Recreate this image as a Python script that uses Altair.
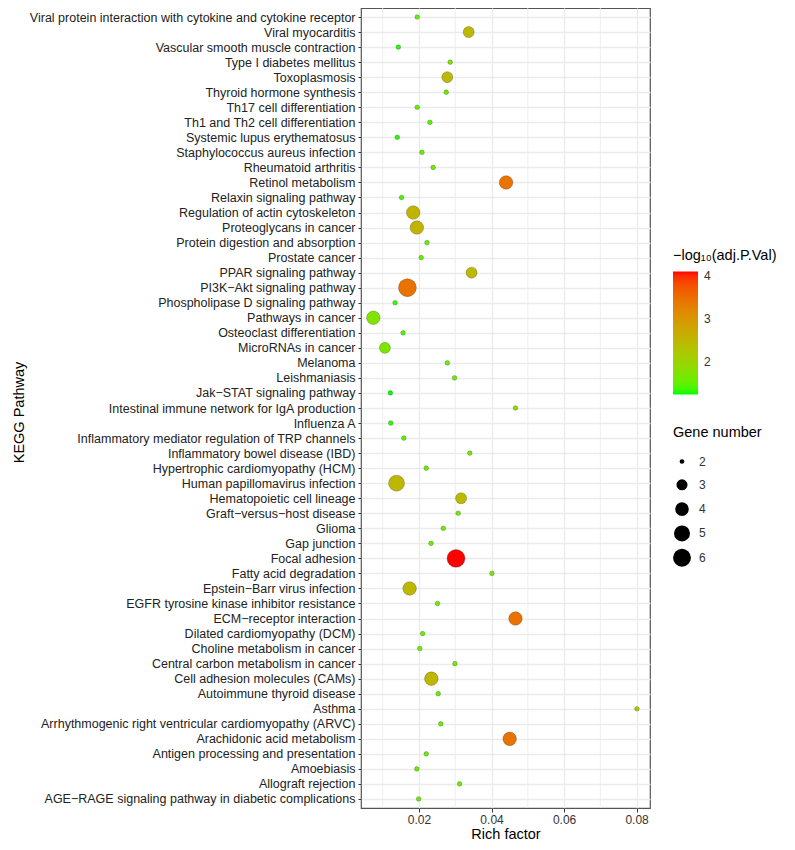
import altair as alt
import pandas as pd

pathways = [
    "Viral protein interaction with cytokine and cytokine receptor",
    "Viral myocarditis",
    "Vascular smooth muscle contraction",
    "Type I diabetes mellitus",
    "Toxoplasmosis",
    "Thyroid hormone synthesis",
    "Th17 cell differentiation",
    "Th1 and Th2 cell differentiation",
    "Systemic lupus erythematosus",
    "Staphylococcus aureus infection",
    "Rheumatoid arthritis",
    "Retinol metabolism",
    "Relaxin signaling pathway",
    "Regulation of actin cytoskeleton",
    "Proteoglycans in cancer",
    "Protein digestion and absorption",
    "Prostate cancer",
    "PPAR signaling pathway",
    "PI3K\u2212Akt signaling pathway",
    "Phospholipase D signaling pathway",
    "Pathways in cancer",
    "Osteoclast differentiation",
    "MicroRNAs in cancer",
    "Melanoma",
    "Leishmaniasis",
    "Jak\u2212STAT signaling pathway",
    "Intestinal immune network for IgA production",
    "Influenza A",
    "Inflammatory mediator regulation of TRP channels",
    "Inflammatory bowel disease (IBD)",
    "Hypertrophic cardiomyopathy (HCM)",
    "Human papillomavirus infection",
    "Hematopoietic cell lineage",
    "Graft\u2212versus\u2212host disease",
    "Glioma",
    "Gap junction",
    "Focal adhesion",
    "Fatty acid degradation",
    "Epstein\u2212Barr virus infection",
    "EGFR tyrosine kinase inhibitor resistance",
    "ECM\u2212receptor interaction",
    "Dilated cardiomyopathy (DCM)",
    "Choline metabolism in cancer",
    "Central carbon metabolism in cancer",
    "Cell adhesion molecules (CAMs)",
    "Autoimmune thyroid disease",
    "Asthma",
    "Arrhythmogenic right ventricular cardiomyopathy (ARVC)",
    "Arachidonic acid metabolism",
    "Antigen processing and presentation",
    "Amoebiasis",
    "Allograft rejection",
    "AGE\u2212RAGE signaling pathway in diabetic complications",
]

rich_factor = [
    0.0195, 0.0337, 0.0143, 0.0286, 0.0278, 0.0275, 0.0195, 0.0230, 0.0140, 0.0208,
    0.0239, 0.0440, 0.0152, 0.0184, 0.0194, 0.0222, 0.0206, 0.0345, 0.0168, 0.0134,
    0.0074, 0.0156, 0.0106, 0.0278, 0.0298, 0.0121, 0.0466, 0.0122, 0.0158, 0.0340,
    0.0220, 0.0138, 0.0316, 0.0308, 0.0267, 0.0233, 0.0302, 0.0401, 0.0174, 0.0251,
    0.0466, 0.0210, 0.0202, 0.0299, 0.0234, 0.0253, 0.0801, 0.0260, 0.0450, 0.0220,
    0.0194, 0.0312, 0.0199,
]

gene_number = [
    2, 3, 2, 2, 3, 2, 2, 2, 2, 2,
    2, 4, 2, 4, 4, 2, 2, 3, 6, 2,
    4, 2, 3, 2, 2, 2, 2, 2, 2, 2,
    2, 5, 3, 2, 2, 2, 6, 2, 4, 2,
    4, 2, 2, 2, 4, 2, 2, 2, 4, 2,
    2, 2, 2,
]

neg_log_p = [
    1.55, 2.50, 1.30, 1.70, 2.45, 1.60, 1.55, 1.45, 1.30, 1.55,
    1.60, 3.45, 1.40, 2.55, 2.55, 1.55, 1.50, 2.45, 3.45, 1.35,
    1.75, 1.45, 1.70, 1.60, 1.60, 1.26, 1.95, 1.30, 1.50, 1.70,
    1.60, 2.50, 2.45, 1.60, 1.60, 1.60, 4.10, 1.70, 2.50, 1.60,
    3.45, 1.60, 1.60, 1.70, 2.50, 1.60, 2.20, 1.60, 3.45, 1.60,
    1.60, 1.60, 1.60,
]

minor_grid = [0.01, 0.03, 0.05, 0.07]
major_ticks = [0.02, 0.04, 0.06, 0.08]
color_ticks = [2, 3, 4]
size_ticks = [2, 3, 4, 5, 6]

FONT = "Liberation Sans"

df = pd.DataFrame({
    "pathway": pathways,
    "rich": rich_factor,
    "genes": gene_number,
    "nlp": neg_log_p,
})
grid_df = pd.DataFrame({"g": minor_grid})

xscale = alt.Scale(domain=[0.004, 0.0837], nice=False, zero=False)
x_axis = alt.Axis(
    values=major_ticks, format=".2f", title="Rich factor",
    titleFontSize=14.5, titleFontWeight="normal", titleColor="#000000",
    titlePadding=2, labelFontSize=12, labelColor="#333333",
    tickSize=4, tickColor="#333333", labelPadding=2,
    grid=True, gridColor="#EBEBEB", gridWidth=1.3, domain=False,
)

minor = alt.Chart(grid_df).mark_rule(color="#EBEBEB", strokeWidth=0.8).encode(
    x=alt.X("g:Q", scale=xscale, axis=x_axis)
)

points = alt.Chart(df).mark_circle(
    opacity=1, stroke="#000000", strokeWidth=0.6, strokeOpacity=0.35
).encode(
    x=alt.X("rich:Q", scale=xscale, axis=x_axis),
    y=alt.Y(
        "pathway:N", sort=pathways,
        scale=alt.Scale(type="point", padding=0.6),
        axis=alt.Axis(
            title="KEGG Pathway", titleFontSize=14.5, titleFontWeight="normal",
            titleColor="#000000", titleX=-335, titleY=404,
            labelFontSize=12.5, labelColor="#222222", labelPadding=3, labelLimit=0,
            tickSize=3, tickColor="#333333", domain=False,
            grid=True, gridColor="#EBEBEB", gridWidth=1.3,
        ),
    ),
    color=alt.Color(
        "nlp:Q",
        scale=alt.Scale(domain=[1.26, 4.1], range=["#00FF00", "#FF0000"], interpolate="lab"),
        legend=alt.Legend(
            title="\u2212log\u2081\u2080(adj.P.Val)", orient="none", legendX=312, legendY=241,
            direction="vertical", gradientLength=123, gradientThickness=25,
            gradientStrokeWidth=0, values=color_ticks,
            titleFontSize=14.5, titleFontWeight="normal", titleColor="#000000", titlePadding=8,
            titleLimit=0,
            labelFontSize=12, labelColor="#333333", labelOffset=6,
        ),
    ),
    size=alt.Size(
        "genes:Q",
        scale=alt.Scale(domain=[2, 3, 4, 5, 6], range=[22, 122, 185, 255, 320]),
        legend=alt.Legend(
            title="Gene number", orient="none", legendX=312, legendY=418,
            values=size_ticks, symbolType="circle", symbolFillColor="#000000",
            symbolStrokeWidth=0, symbolOpacity=1, rowPadding=5.3,
            columns=1, gridAlign="all",
            titleFontSize=14.5, titleFontWeight="normal", titleColor="#000000", titlePadding=15,
            labelFontSize=12, labelColor="#333333", labelOffset=8,
        ),
    ),
)

chart = alt.layer(minor, points).properties(
    width=289, height=800,
    autosize="none",
    padding={"left": 353, "top": 0, "right": 134, "bottom": 34},
).configure(
    font=FONT,
).configure_view(
    stroke="#555555", strokeWidth=1.2, fill="#FFFFFF",
)

chart.save("out.html", embed_options={"renderer": "svg", "actions": False})
